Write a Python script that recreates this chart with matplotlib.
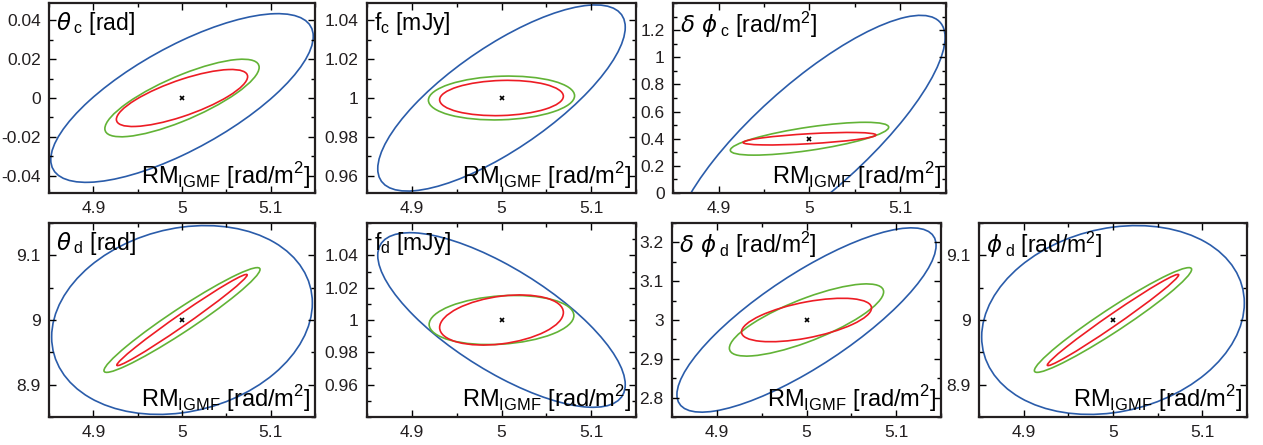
import numpy as np
import matplotlib
matplotlib.use("Agg")
import matplotlib.pyplot as plt
from matplotlib.patches import Circle
from matplotlib.transforms import Affine2D
from matplotlib.ticker import MultipleLocator, FixedLocator, FormatStrFormatter

plt.rcParams['font.family'] = ['Liberation Sans', 'DejaVu Sans']
plt.rcParams['mathtext.fontset'] = 'custom'
plt.rcParams['mathtext.rm'] = 'Liberation Sans'
plt.rcParams['mathtext.it'] = 'DejaVu Sans:italic'
plt.rcParams['mathtext.bf'] = 'Liberation Sans:bold'

# panel labels (top-left corner of each panel)
labels = [r'$\theta\,{}_{\rm c}$ [rad]',
          r'f$_{\rm c}$ [mJy]',
          r'$\delta\ \phi\,{}_{\rm c}$ [rad/m$^2$]',
          r'$\theta\,{}_{\rm d}$ [rad]',
          r'f$_{\rm d}$ [mJy]',
          r'$\delta\ \phi\,{}_{\rm d}$ [rad/m$^2$]',
          r'$\phi\,{}_{\rm d}$ [rad/m$^2$]']
xlabel = r'RM$_{\rm IGMF}$ [rad/m$^2$]'

# fiducial values
rm_fid = 5.0
par_fid = [0.0, 1.0, 0.4, 9.0, 1.0, 3.0, 9.0]

# axis ranges
xlim = (4.85, 5.15)
ylims = [(-0.049, 0.049), (0.951, 1.049), (0.0, 1.4), (8.85, 9.15),
         (0.94, 1.06), (2.75, 3.25), (8.85, 9.15)]
ymajor = [[-0.04, -0.02, 0, 0.02, 0.04],
          [0.96, 0.98, 1.0, 1.02, 1.04],
          [0, 0.2, 0.4, 0.6, 0.8, 1.0, 1.2],
          [8.9, 9.0, 9.1],
          [0.96, 0.98, 1.0, 1.02, 1.04],
          [2.8, 2.9, 3.0, 3.1, 3.2],
          [8.9, 9.0, 9.1]]
yminor = [0.01, 0.01, 0.1, 0.05, 0.01, 0.05, 0.05]

# 1-sigma ellipses: (sigma_RM, sigma_par, correlation)
blue = [(0.148, 0.0435, 0.73), (0.138, 0.048, 0.76), (0.149, 0.909, 0.82),
        (0.147, 0.146, 0.18), (0.138, 0.054, -0.74), (0.1445, 0.2375, 0.81),
        (0.147, 0.146, 0.18)]
green = [(0.087, 0.020, 0.79), (0.0815, 0.0113, 0.10), (0.087, 0.121, 0.70),
         (0.088, 0.081, 0.965), (0.0807, 0.0152, 0.18), (0.086, 0.093, 0.78),
         (0.088, 0.081, 0.965)]
red = [(0.074, 0.0147, 0.75), (0.069, 0.0091, 0.10), (0.073, 0.046, 0.60),
       (0.0735, 0.0705, 0.988), (0.069, 0.0155, 0.30), (0.0725, 0.056, 0.55),
       (0.0735, 0.0705, 0.988)]

colors = {'blue': '#2a5caa', 'green': '#62b336', 'red': '#ed1c24'}

# axes boxes in pixels: left, top, right, bottom
W, H = 1263, 445
boxes = [(49, 3, 315, 193), (367, 3, 636, 193), (673, 3, 946, 193),
         (49, 223, 315, 417), (367, 223, 636, 417), (672, 223, 941, 417),
         (979, 223, 1247, 417)]

fig = plt.figure(figsize=(W / 100, H / 100), dpi=100)
tick_col = '#231f20'


def draw_ellipse(ax, cx, cy, sx, sy, rho, color):
    m = np.array([[sx, 0.0, cx],
                  [sy * rho, sy * np.sqrt(1 - rho ** 2), cy],
                  [0.0, 0.0, 1.0]])
    c = Circle((0, 0), 1.0, fill=False, edgecolor=color, lw=1.2,
               transform=Affine2D(m) + ax.transData)
    ax.add_patch(c)


for i in range(7):
    l, t, r, b = boxes[i]
    ax = fig.add_axes([l / W, 1 - b / H, (r - l) / W, (b - t) / H])
    ax.set_xlim(xlim)
    ax.set_ylim(ylims[i])
    for key, ell in (('blue', blue), ('green', green), ('red', red)):
        sx, sy, rho = ell[i]
        draw_ellipse(ax, rm_fid, par_fid[i], sx, sy, rho, colors[key])
    ax.plot([rm_fid], [par_fid[i]], 'x', color='black', ms=3.5, mew=1.2)

    ax.xaxis.set_major_locator(FixedLocator([4.9, 5.0, 5.1]))
    ax.xaxis.set_minor_locator(MultipleLocator(0.05))
    ax.yaxis.set_major_locator(FixedLocator(ymajor[i]))
    ax.yaxis.set_minor_locator(MultipleLocator(yminor[i]))
    ax.xaxis.set_major_formatter(FormatStrFormatter('%g'))
    ax.yaxis.set_major_formatter(FormatStrFormatter('%g'))
    ax.tick_params(which='both', direction='in', top=True, right=True,
                   labelsize=12.5, labelcolor=tick_col, width=1.0)
    ax.tick_params(which='major', length=5, pad=6)
    ax.tick_params(which='minor', length=3)
    for s in ax.spines.values():
        s.set_linewidth(1.6)
        s.set_color('#231f20')

    ax.text(0.025, 0.965, labels[i], transform=ax.transAxes, ha='left',
            va='top', fontsize=16.5, color='black')
    ax.text(0.985, 0.05, xlabel, transform=ax.transAxes, ha='right',
            va='baseline', fontsize=17, color='black')

fig.savefig('out.png', dpi=100, facecolor='white')
